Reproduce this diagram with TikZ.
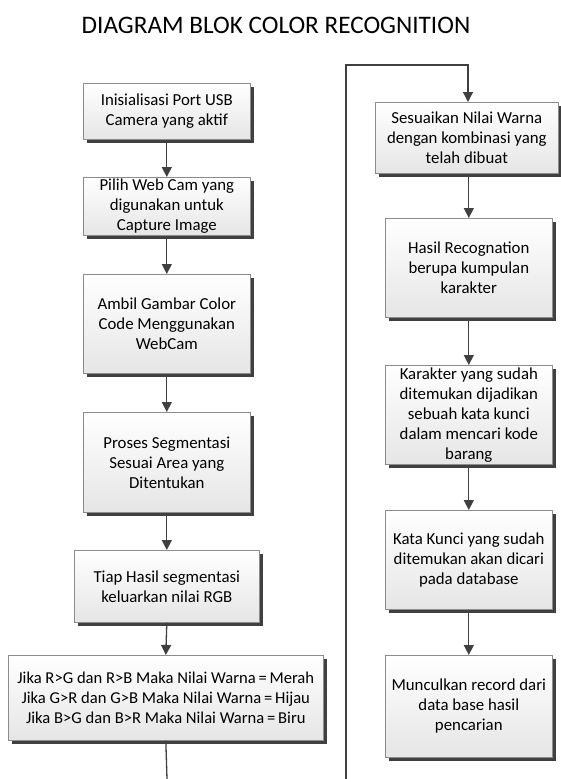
\documentclass[tikz,border=0pt]{standalone}
\usepackage{fontspec}
\setmainfont{Carlito}
\usetikzlibrary{arrows.meta,shadows}
\definecolor{linegray}{HTML}{404040}
\tikzset{
  blockbox/.style={draw=black!45, line width=0.6pt, top color=white, bottom color=black!10,
    anchor=north west, inner sep=0pt, align=center, font=\fontsize{16.8}{20}\selectfont,
    drop shadow={shadow xshift=4pt, shadow yshift=-4pt, fill=black!75, opacity=1}},
  flow/.style={draw=linegray, line width=1.3pt, -{Triangle[width=10pt,length=10pt]}},
  plainline/.style={draw=linegray, line width=1.3pt}
}
\begin{document}
\begin{tikzpicture}[x=1pt,y=-1pt]
\useasboundingbox (0,0) rectangle (560,779);
\node[anchor=base, font=\fontsize{25.2}{30}\selectfont] (title) at (276,33) {DIAGRAM BLOK COLOR RECOGNITION};

\node[blockbox, minimum width=167pt, minimum height=56pt] (l1) at (83,83) {Inisialisasi Port USB\\Camera yang aktif};
\node[blockbox, minimum width=167pt, minimum height=58pt] (l2) at (83,177) {Pilih Web Cam yang\\digunakan untuk\\Capture Image};
\node[blockbox, minimum width=167pt, minimum height=99pt] (l3) at (83,274) {Ambil Gambar Color\\Code Menggunakan\\WebCam};
\node[blockbox, minimum width=167pt, minimum height=100pt] (l4) at (83,412) {Proses Segmentasi\\Sesuai Area yang\\Ditentukan};
\node[blockbox, minimum width=185pt, minimum height=72pt] (l5) at (74,550) {Tiap Hasil segmentasi\\keluarkan nilai RGB};
\node[blockbox, minimum width=315pt, minimum height=85pt, font=\fontsize{16.6}{20}\selectfont] (l6) at (8,655) {Jika R>G dan R>B Maka Nilai Warna\,=\,Merah\\Jika G>R dan G>B Maka Nilai Warna\,=\,Hijau\\Jika B>G dan B>R Maka Nilai Warna\,=\,Biru};

\node[blockbox, minimum width=183pt, minimum height=71pt] (r1) at (375,102) {Sesuaikan Nilai Warna\\dengan kombinasi yang\\telah dibuat};
\node[blockbox, minimum width=167pt, minimum height=99pt] (r2) at (385,218) {Hasil Recognation\\berupa kumpulan\\karakter};
\node[blockbox, minimum width=167pt, minimum height=99pt] (r3) at (385,365) {Karakter yang sudah\\ditemukan dijadikan\\sebuah kata kunci\\dalam mencari kode\\barang};
\node[blockbox, minimum width=167pt, minimum height=99pt] (r4) at (385,510) {Kata Kunci yang sudah\\ditemukan akan dicari\\pada database};
\node[blockbox, minimum width=167pt, minimum height=102pt] (r5) at (385,655) {Munculkan record dari\\data base hasil\\pencarian};

\coordinate (lend) at (167,779);
\coordinate (rstart) at (346,779);
\coordinate (rtop) at (346,65);
\coordinate (rcorner) at (468,65);

\draw[flow] (l1.south) -- (l2.north);
\draw[flow] (l2.south) -- (l3.north);
\draw[flow] (l3.south) -- (l4.north);
\draw[flow] (l4.south) -- (l5.north);
\draw[flow] (l5.south) -- (l6.north);
\draw[plainline] (l6.south) -- (lend);

\draw[flow] (rstart) -- (rtop) -- (rcorner) -- (rcorner |- r1.north);
\draw[flow] (r1.south -| r2.north) -- (r2.north);
\draw[flow] (r2.south) -- (r3.north);
\draw[flow] (r3.south) -- (r4.north);
\draw[flow] (r4.south) -- (r5.north);
\end{tikzpicture}
\end{document}
